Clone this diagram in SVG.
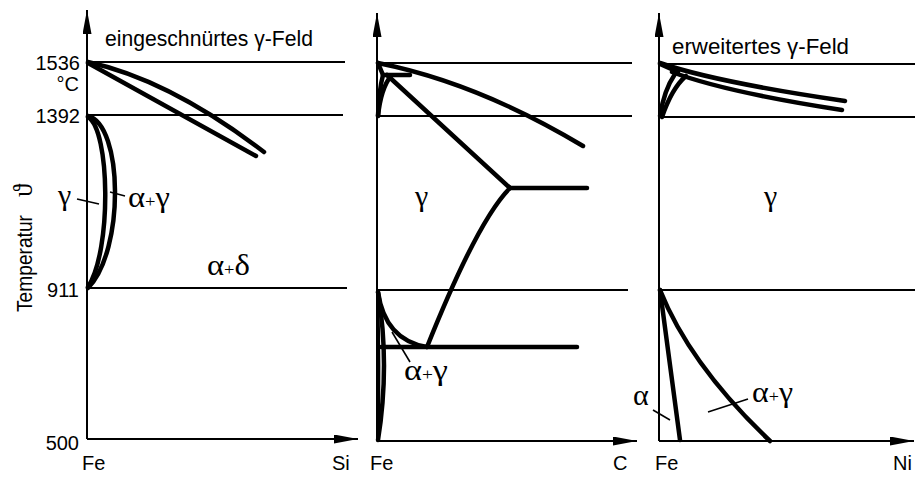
<svg xmlns="http://www.w3.org/2000/svg" width="915" height="477" viewBox="0 0 915 477">
<style>
.ax{stroke:#000;stroke-width:2;fill:none}
.th{stroke:#000;stroke-width:4.5;fill:none;stroke-linecap:round;stroke-linejoin:round}
.ld{stroke:#000;stroke-width:1.6;fill:none}
.t{font-family:"Liberation Sans",Arial,sans-serif;font-size:20px;fill:#000}
.ti{font-family:"Liberation Sans",Arial,sans-serif;font-size:22px;fill:#000}
.g{font-family:"Liberation Serif","DejaVu Serif",serif;font-size:30px;fill:#000}
.p{font-size:17px}
</style>
<defs>
<marker id="arr" markerUnits="userSpaceOnUse" markerWidth="25" markerHeight="10" refX="24" refY="4.5" orient="auto">
<path d="M0,0 L24,4.5 L0,9 z" fill="#000"/>
</marker>
</defs>

<g id="panel-si">
<line class="ax" x1="87" y1="439" x2="87" y2="10" marker-end="url(#arr)"/>
<line class="ax" x1="87" y1="439" x2="358" y2="439" marker-end="url(#arr)"/>
<line class="ax" x1="87" y1="62" x2="345" y2="62"/>
<line class="ax" x1="87" y1="115" x2="343" y2="115"/>
<line class="ax" x1="87" y1="288" x2="347" y2="288"/>
<path class="th" d="M88,62 Q170,80 264,152"/>
<path class="th" d="M88,63 L256,156"/>
<path class="th" d="M88,116 C123,125 125,250 88,288"/>
<path class="th" d="M88,117 C110,130 112,250 88,287"/>
<line class="ld" x1="77" y1="199" x2="99" y2="204"/>
<line class="ld" x1="110" y1="192" x2="125" y2="196"/>
<text class="ti" x="105" y="46" textLength="208" lengthAdjust="spacingAndGlyphs">eingeschnürtes γ-Feld</text>
<text class="t" x="80" y="70" text-anchor="end">1536</text>
<text class="t" x="79" y="91" text-anchor="end">°C</text>
<text class="t" x="80" y="123" text-anchor="end">1392</text>
<text class="t" x="79" y="297" text-anchor="end">911</text>
<text class="t" x="79" y="450" text-anchor="end">500</text>
<text class="t" transform="translate(32,312) rotate(-90)" style="font-size:22px" textLength="97" lengthAdjust="spacingAndGlyphs">Temperatur</text>
<text class="g" transform="translate(32,197) rotate(-90)" style="font-size:27px">ϑ</text>
<text class="t" x="82" y="470">Fe</text>
<text class="t" x="332" y="470">Si</text>
<text class="g" x="58" y="205">γ</text>
<text class="g" x="128" y="207" textLength="42" lengthAdjust="spacingAndGlyphs">α<tspan class="p">+</tspan>γ</text>
<text class="g" x="207" y="275" textLength="43" lengthAdjust="spacingAndGlyphs">α<tspan class="p">+</tspan>δ</text>
</g>

<g id="panel-c">
<line class="ax" x1="377" y1="441" x2="377" y2="13" marker-end="url(#arr)"/>
<line class="ax" x1="377" y1="441" x2="637" y2="441" marker-end="url(#arr)"/>
<line class="ax" x1="377" y1="63" x2="632" y2="63"/>
<line class="ax" x1="377" y1="116" x2="632" y2="116"/>
<line class="ax" x1="377" y1="290" x2="628" y2="290"/>
<path class="th" d="M378,63 Q478,83 583,146"/>
<path class="th" d="M378,63 L383,75"/>
<path class="th" d="M378,116 Q379,90 383,75"/>
<path class="th" d="M378,116 Q381,88 391,76"/>
<path class="th" d="M383,75 L410,75"/>
<path class="th" d="M387,75 L510,188"/>
<path class="th" d="M510,188 L587,188"/>
<path class="th" d="M510,188 Q477.7,220.3 427,347"/>
<path class="th" d="M378,292 Q385,340 427,347"/>
<path class="th" d="M381,347 L577,347"/>
<path class="th" d="M378,292 Q390,365 378,440"/>
<path class="th" style="stroke-width:3" d="M377.5,292 Q380,365 378,440"/>
<line class="ld" x1="392" y1="332" x2="410" y2="362"/>
<text class="t" x="370" y="470">Fe</text>
<text class="t" x="613" y="470">C</text>
<text class="g" x="415" y="206">γ</text>
<text class="g" x="404" y="380" textLength="44" lengthAdjust="spacingAndGlyphs">α<tspan class="p">+</tspan>γ</text>
</g>

<g id="panel-ni">
<line class="ax" x1="659" y1="441" x2="659" y2="13" marker-end="url(#arr)"/>
<line class="ax" x1="659" y1="441" x2="914" y2="441" marker-end="url(#arr)"/>
<line class="ax" x1="659" y1="64" x2="915" y2="64"/>
<line class="ax" x1="659" y1="117" x2="915" y2="117"/>
<line class="ax" x1="659" y1="290" x2="915" y2="290"/>
<path class="th" d="M660,63 Q715,82 845,101"/>
<path class="th" d="M660,64 L678,72"/>
<path class="th" d="M672,72 Q725,92 842,110"/>
<path class="th" d="M660,116 Q664,90 675,74"/>
<path class="th" d="M662,117 Q672,88 686,76"/>
<path class="th" d="M660,290 L680,440"/>
<path class="th" d="M660,290 Q690,365 770,441"/>
<line class="ld" x1="653" y1="410" x2="670" y2="420"/>
<line class="ld" x1="708" y1="412" x2="748" y2="399"/>
<text class="ti" x="672" y="54" textLength="177" lengthAdjust="spacingAndGlyphs">erweitertes γ-Feld</text>
<text class="t" x="655" y="470">Fe</text>
<text class="t" x="893" y="470">Ni</text>
<text class="g" x="764" y="206">γ</text>
<text class="g" x="633" y="405">α</text>
<text class="g" x="752" y="402" textLength="41" lengthAdjust="spacingAndGlyphs">α<tspan class="p">+</tspan>γ</text>
</g>
</svg>
